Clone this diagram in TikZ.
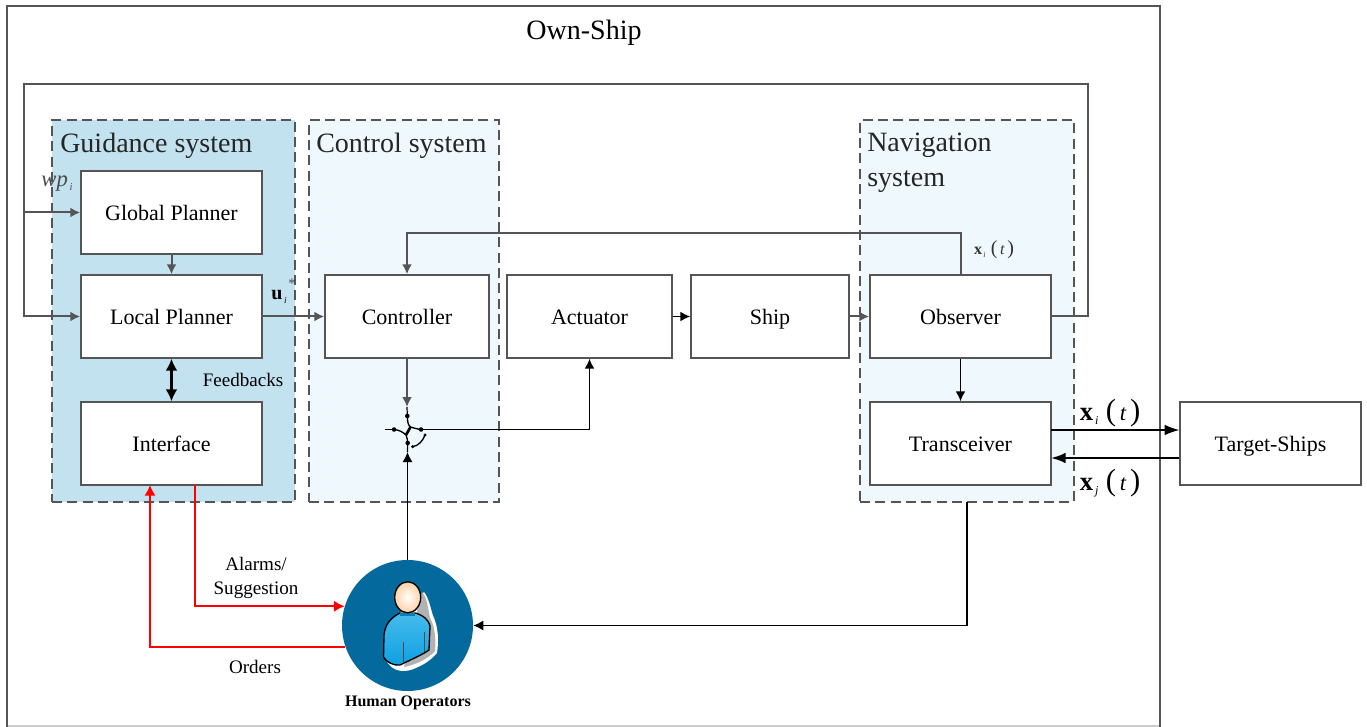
\documentclass[tikz,border=0pt]{standalone}
\usepackage{fontspec}
\setmainfont{Liberation Serif}
\usetikzlibrary{arrows.meta,calc}
\definecolor{lineg}{HTML}{555555}
\definecolor{paleblue}{HTML}{EFF8FC}
\definecolor{guideblue}{HTML}{C2E2EF}
\definecolor{opblue}{HTML}{046A9E}
\definecolor{bodytop}{HTML}{45BCEC}
\definecolor{bodylow}{HTML}{0E9FE2}
\newcommand{\fs}[2]{\fontsize{#1}{#2}\selectfont}
\newcommand{\bigx}[1]{{\fs{20}{20}\bfseries x}\raisebox{-.35ex}{\fs{9}{9}\itshape\,#1}\,\,{\fs{23}{23}(}\,{\itshape t}\,{\fs{23}{23})}}
\tikzset{
  x=0.75pt,y=-0.75pt,
  blockbox/.style={draw=lineg,fill=white,line width=1.1pt,inner sep=0pt,minimum height=62.25pt,font=\fs{16.5}{18},text height=15pt,text depth=3.5pt},
  wide/.style={minimum width=135.75pt},
  sysbox/.style={draw=lineg,line width=1.1pt,dash pattern=on 7.5pt off 4pt,inner sep=0pt,minimum height=286.5pt},
  systitle/.style={anchor=west,font=\fs{21}{24},text=black!85,align=left,inner sep=0pt},
  grayline/.style={draw=lineg,line width=1.5pt,-{Latex[length=7.5pt,width=7.5pt]}},
  blackline/.style={draw=black,line width=1.2pt,-{Latex[length=7.5pt,width=7.5pt]}},
  longtip/.style={-{Latex[length=11pt,width=8pt]}},
  redline/.style={draw=red,line width=1.4pt,-{Latex[length=8pt,width=8.5pt]}},
  lab/.style={font=\fs{14.3}{16.5},align=center,inner sep=0pt},
}
\begin{document}
\begin{tikzpicture}
\useasboundingbox (0,0) rectangle (1367,727);
\fill[white] (0,0) rectangle (1367,727);
% frame
\draw[lineg!30,line width=.8pt] (7,726) -- (1160,726);
\draw[lineg,line width=1.2pt] (7,727) -- (7,6) -- (1160,6) -- (1160,727);
\node[font=\fs{21}{24},inner sep=0pt] (ownlabel) at (584,33) {Own-Ship};
% system regions
\node[sysbox,fill=guideblue,minimum width=182.25pt] (guidance) at (173.5,311) {};
\node[sysbox,fill=paleblue,minimum width=142.5pt] (control) at (404,311) {};
\node[sysbox,fill=paleblue,minimum width=160.5pt] (navigation) at (967,311) {};
\node[systitle] (guidancet) at (60,146) {Guidance system};
\node[systitle] (controlt) at (316,146) {Control system};
\node[systitle] (navt) at (867,163) {Navigation\\[2pt]system};
% blocks
\node[blockbox,wide] (global) at (171.5,212.5) {Global Planner};
\node[blockbox,wide] (local) at (171.5,316.5) {Local Planner};
\node[blockbox,wide] (interface) at (171.5,443.5) {Interface};
\node[blockbox,minimum width=123pt] (controller) at (407,316.5) {Controller};
\node[blockbox,minimum width=123.75pt] (actuator) at (589.5,316.5) {Actuator};
\node[blockbox,minimum width=118.5pt] (ship) at (770,316.5) {Ship};
\node[blockbox,wide] (observer) at (960.5,316.5) {Observer};
\node[blockbox,wide] (transceiver) at (960.5,443.5) {Transceiver};
\node[blockbox,wide] (target) at (1270.5,443.5) {Target-Ships};
\node[circle,fill=opblue,minimum size=98.25pt,inner sep=0pt] (human) at (407.5,625.5) {};
% named points
\coordinate (fbNE) at (1088,84);
\coordinate (fbNW) at (24,84);
\coordinate (obsbend) at (700,233);
\coordinate (swIn) at (407,407);
\coordinate (swTop) at (407.3,416);
\coordinate (swLeft) at (394,429.5);
\coordinate (swLeftEnd) at (385,429.5);
\coordinate (swRight) at (421,429.5);
\coordinate (swLow) at (407.7,443);
\coordinate (swBot) at (407.5,452);
\coordinate (txOut) at (1051,430);
\coordinate (txIn) at (1051,458);
\coordinate (trDown) at (967,502);
\coordinate (ifOut) at (195,485);
\coordinate (ifIn) at (150,485);
% gray connectors
\draw[grayline] (observer.east) -| (fbNE) -- (fbNW) |- (local.west);
\draw[grayline] (fbNW |- global.west) -- (global.west);
\draw[grayline] (global.south) -- (local.north);
\draw[grayline] (local.east) -- (controller.west);
\draw[grayline] (observer.north) |- (obsbend) -| (controller.north);
\draw[grayline] (ship.east) -- (observer.west);
\draw[grayline] (controller.south) -- (swIn);
% black connectors
\draw[blackline,{Latex[length=9pt,width=9pt]}-{Latex[length=9pt,width=9pt]},line width=1.6pt] (local.south) -- (interface.north);
\draw[blackline] (actuator.east) -- (ship.west);
\draw[blackline] (observer.south) -- (transceiver.north);
\draw[blackline,longtip,line width=1pt] (txOut) -- (target.west |- txOut);
\draw[blackline,longtip,line width=1.5pt] (target.west |- txIn) -- (txIn);
\draw[blackline,line width=1pt] (trDown) |- (human.east);
\draw[blackline,line width=1pt] (human.north) -- (swBot);
\draw[blackline] (swRight) -| (actuator.south);
% red connectors
\draw[redline] (ifOut) |- (human.163.6);
\draw[redline] (human.199.2) -| (ifIn);
% switch
\draw[black,line width=.9pt] (swIn) -- (swTop);
\draw[black,line width=.9pt] (swLeftEnd) -- (swLeft);
\draw[black,line width=.9pt] (swLow) -- (swBot);
\draw[black,line width=1pt] (swTop) .. controls (407.5,422) and (408,425) .. (410.5,427) .. controls (414,428) and (417,429) .. (swRight);
\draw[black,line width=1pt] (swLeft) .. controls (399,430) and (403,432) .. (406,435) .. controls (407,438) and (407.7,440) .. (swLow);
\draw[black,line width=2pt] (410.5,427) -- (406,435);
\draw[black,line width=1pt] (425,435) .. controls (423,441) and (418,446) .. (412.7,446.7);
\foreach \p in {swTop,swLeft,swRight,swLow}{\fill (\p) circle (1.7pt);}
\fill (425,435) circle (1.3pt); \fill (412.7,446.7) circle (1.3pt);
% operator icon
\fill[white] (386,660) .. controls (392,672) and (405,674) .. (418,667) .. controls (425,664) and (432,659) .. (437,653) .. controls (439,640) and (438,628) .. (434,618) .. controls (431,612) and (430,600) .. (424,592) -- (410,610) -- (384,640) -- cycle;
\fill[black!30] (404,667) .. controls (415,665) and (428,659) .. (435,651) .. controls (436,640) and (435,628) .. (431,620) .. controls (428,615) and (429,600) .. (422,592) -- (416,615) -- cycle;
\path[draw=black,line width=1pt,top color=bodytop,bottom color=bodylow] (400,613) .. controls (390,618) and (385,625) .. (384,635) -- (383.5,657) .. controls (386,662) and (394,666) .. (400,665) .. controls (410,660) and (422,655) .. (429,650) -- (430,626) .. controls (429,620) and (423,615) .. (415,613) -- cycle;
\fill[bodylow!80!black] (400,612) rectangle (415,616);
\fill[orange!75!brown] (401,610) rectangle (414,613);
\path[draw=black,line width=1pt,inner color=white,outer color=orange!35] (407.7,597.3) ellipse (13 and 15.5);
\draw[black!70,line width=.5pt] (403.3,642) -- (403.3,662);
\draw[black!70,line width=.5pt] (424,632) -- (424,652);
% labels
\node[font=\fs{12}{14}\bfseries,inner sep=0pt] (hlabel) at (408,703) {Human Operators};
\node[lab] (fblab) at (243,380) {Feedbacks};
\node[lab] (alarms) at (256,578) {Alarms/\\[2pt]Suggestion};
\node[lab] (orders) at (255,667) {Orders};
\node[font=\fs{17}{18},inner sep=0pt,text=black!70] (wp) at (57,184) {{\itshape wp}\raisebox{-.35ex}{\fs{8}{8}\itshape\,i}};
\node[font=\fs{15}{16},inner sep=0pt] (ulab) at (279,297) {{\bfseries u}\raisebox{-.35ex}{\fs{7}{7}\itshape\,i}};
\node[font=\fs{11}{12},inner sep=0pt,text=black!70] (ustar) at (292,284) {*};
\node[font=\fs{12}{14},inner sep=0pt,text=black!80] (xsmall) at (994,250) {{\bfseries x}\raisebox{-.35ex}{\fs{6}{6}\itshape\,i}\,\,{\fs{15}{15}(}\,{\itshape t}\,{\fs{15}{15})}};
\node[font=\fs{17}{20},inner sep=0pt] (xi) at (1110,413) {\bigx{i}};
\node[font=\fs{17}{20},inner sep=0pt] (xj) at (1110,483) {\bigx{j}};
\end{tikzpicture}
\end{document}
